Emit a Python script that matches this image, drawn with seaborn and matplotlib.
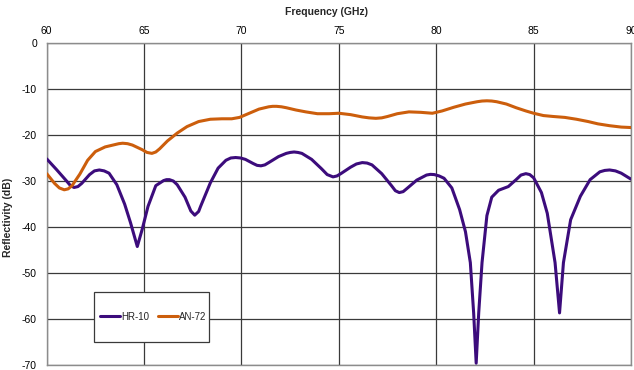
import pandas as pd
import numpy as np
import matplotlib
matplotlib.use('Agg')
import matplotlib.pyplot as plt
import seaborn as sns
from matplotlib.patches import Rectangle

# Reflectivity data
hr10_freq = [60.0, 60.5, 61.0, 61.2, 61.4, 61.6, 61.8, 62.2, 62.45, 62.7, 62.95, 63.2, 63.6,
             64.0, 64.3, 64.65, 64.9, 65.2, 65.6, 66.0, 66.15, 66.3, 66.5, 66.7, 67.1, 67.4,
             67.6, 67.8, 67.9, 68.4, 68.8, 69.2, 69.45, 69.7, 69.95, 70.2, 70.6, 70.8, 71.0,
             71.2, 71.4, 71.9, 72.3, 72.5, 72.7, 72.9, 73.1, 73.6, 74.1, 74.4, 74.7, 74.9,
             75.1, 75.6, 75.9, 76.2, 76.45, 76.7, 77.2, 77.7, 77.9, 78.1, 78.3, 78.5, 79.0,
             79.5, 79.7, 79.9, 80.15, 80.4, 80.8, 81.2, 81.5, 81.75, 81.92, 82.05, 82.18,
             82.35, 82.6, 82.85, 83.2, 83.7, 84.1, 84.35, 84.6, 84.8, 85.0, 85.4, 85.7, 86.1,
             86.33, 86.53, 86.9, 87.4, 87.9, 88.4, 88.65, 88.9, 89.2, 89.5, 90.0]
hr10_db = [-25.2, -27.5, -29.9, -30.9, -31.4, -31.2, -30.5, -28.6, -27.8, -27.6, -27.8, -28.3, -30.8,
           -35.0, -39.0, -44.2, -40.5, -35.5, -31.0, -29.9, -29.7, -29.7, -30.0, -30.8, -33.5, -36.5,
           -37.4, -36.6, -35.5, -30.4, -27.2, -25.5, -25.0, -24.9, -25.0, -25.3, -26.2, -26.6, -26.7,
           -26.5, -26.0, -24.7, -24.0, -23.8, -23.7, -23.8, -24.0, -25.3, -27.3, -28.6, -29.1, -28.9,
           -28.4, -27.0, -26.3, -26.0, -26.1, -26.5, -28.4, -31.0, -32.1, -32.5, -32.3, -31.6, -29.8,
           -28.7, -28.55, -28.6, -28.9, -29.4, -31.5, -36.2, -41.0, -47.7, -58.6, -69.5, -58.6,
           -47.7, -37.5, -33.5, -32.0, -31.2, -29.7, -28.7, -28.4, -28.6, -29.3, -32.5, -37.0, -47.7,
           -58.6, -47.7, -38.4, -33.3, -29.7, -28.0, -27.7, -27.6, -27.8, -28.3, -29.6]

an72_freq = [60.0, 60.4, 60.65, 60.9, 61.1, 61.3, 61.7, 62.1, 62.5, 63.0, 63.5, 63.7, 63.9,
             64.15, 64.4, 64.9, 65.15, 65.4, 65.6, 65.8, 66.2, 66.7, 67.2, 67.8, 68.4, 69.0,
             69.5, 69.9, 70.4, 70.9, 71.4, 71.6, 71.8, 72.05, 72.3, 72.8, 73.3, 73.9, 74.5,
             75.0, 75.6, 76.2, 76.55, 76.9, 77.2, 77.5, 78.0, 78.6, 79.2, 79.8, 80.3, 80.9,
             81.5, 82.1, 82.35, 82.6, 82.85, 83.1, 83.6, 84.1, 84.6, 85.0, 85.5, 86.0, 86.6,
             87.2, 87.8, 88.3, 88.9, 89.5, 90.0]
an72_db = [-28.4, -30.5, -31.5, -31.9, -31.7, -31.0, -28.5, -25.5, -23.6, -22.6, -22.1, -21.9, -21.8,
           -21.9, -22.2, -23.2, -23.8, -24.0, -23.7, -23.0, -21.3, -19.6, -18.2, -17.1, -16.6, -16.5,
           -16.5, -16.2, -15.3, -14.4, -13.9, -13.8, -13.8, -13.9, -14.1, -14.6, -15.0, -15.4, -15.4,
           -15.3, -15.6, -16.1, -16.3, -16.4, -16.3, -16.0, -15.4, -15.0, -15.1, -15.3, -14.8, -14.0,
           -13.3, -12.8, -12.65, -12.6, -12.65, -12.8, -13.3, -14.1, -14.8, -15.3, -15.8, -16.0, -16.2,
           -16.6, -17.1, -17.6, -18.0, -18.3, -18.4]

series_names = ['HR-10', 'AN-72']
series_colors = ['#3c0c7c', '#cc5e0c']

df = pd.concat([
    pd.DataFrame({'Frequency': hr10_freq, 'Reflectivity': hr10_db, 'Material': 'HR-10'}),
    pd.DataFrame({'Frequency': an72_freq, 'Reflectivity': an72_db, 'Material': 'AN-72'}),
])

sns.set_style('white')
plt.rcParams['font.family'] = ['Liberation Sans', 'DejaVu Sans']
plt.rcParams['axes.unicode_minus'] = False

fig = plt.figure(figsize=(6.34, 3.70), dpi=100)
ax = fig.add_axes([0.0737, 0.0122, 0.9216, 0.8724])

sns.lineplot(data=df, x='Frequency', y='Reflectivity', hue='Material', hue_order=series_names,
             palette=series_colors, linewidth=2.2, ax=ax, zorder=3)
for line in ax.get_lines():
    line.set_solid_joinstyle('round')

ax.set_xlim(60, 90)
ax.set_ylim(-70, 0)
ax.set_xticks(range(60, 91, 5))
ax.set_yticks(range(-70, 1, 10))
ax.xaxis.tick_top()
ax.xaxis.set_label_position('top')

ax.grid(True, color='#3a3a3a', linewidth=0.9)
ax.set_axisbelow(True)
for s in ax.spines.values():
    s.set_color('#8c8c8c')
    s.set_linewidth(1.0)

ax.tick_params(axis='x', length=0, pad=5, labelsize=7.5, colors='#000000')
ax.tick_params(axis='y', length=5, width=1.0, color='#8c8c8c', pad=2, labelsize=7.5, labelcolor='#000000')

ax.set_xlabel('Frequency (GHz)', fontsize=7.5, fontweight='bold')
ax.xaxis.set_label_coords(0.478, 1.086)
ax.set_ylabel('Reflectivity (dB)', fontsize=7.5, fontweight='bold')
ax.yaxis.set_label_coords(-0.058, 0.46)

# legend box
ax.add_patch(Rectangle((0.081, 0.0737), 0.197, 0.155, transform=ax.transAxes,
                       facecolor='white', edgecolor='#3a3a3a', linewidth=0.9, zorder=5))
leg = ax.legend(loc='center', bbox_to_anchor=(0.1826, 0.151), ncol=2, frameon=False,
                fontsize=7, handlelength=2.0, handletextpad=0.15, columnspacing=0.9)
leg.set_zorder(6)
for line in leg.get_lines():
    line.set_linewidth(2.2)

fig.savefig('out.png', dpi=100)
